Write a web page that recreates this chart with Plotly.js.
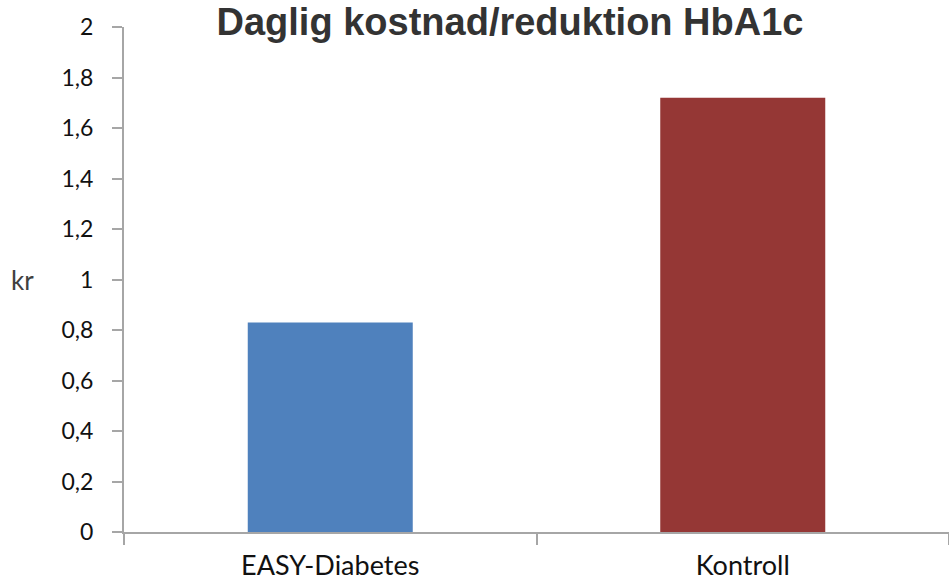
<!DOCTYPE html>
<html>
<head>
<meta charset="utf-8">
<script src="https://cdn.plot.ly/plotly-3.0.1.min.js"></script>
<style>
  html, body { margin: 0; padding: 0; background: #ffffff; }
  #chart { width: 949px; height: 582px; }
</style>
</head>
<body>
<div id="chart"></div>
<script>
const categories = ["EASY-Diabetes", "Kontroll"];
const values = [0.83, 1.72];
const barColors = ["#4F81BD", "#953735"];
const yTickVals = [0, 0.2, 0.4, 0.6, 0.8, 1, 1.2, 1.4, 1.6, 1.8, 2];
const yTickText = ["0", "0,2", "0,4", "0,6", "0,8", "1", "1,2", "1,4", "1,6", "1,8", "2"];
const titleText = "Daglig kostnad/reduktion HbA1c";
const yLabel = "kr";

const trace = {
  type: "bar",
  x: categories,
  y: values,
  marker: { color: barColors, line: { width: 0 } },
  hoverinfo: "x+y"
};

const axisColor = "#a6a6a6";

const layout = {
  width: 949,
  height: 582,
  margin: { l: 124, r: 0, t: 27, b: 50, pad: 0 },
  paper_bgcolor: "#ffffff",
  plot_bgcolor: "#ffffff",
  separators: ", ",
  showlegend: false,
  bargap: 0.6,
  title: {
    text: "<b>" + titleText + "</b>",
    font: { family: "Liberation Sans, Arial, sans-serif", size: 38, color: "#333333" },
    x: 510 / 949,
    xanchor: "center",
    xref: "container",
    yref: "container",
    y: 1 - 22 / 582,
    yanchor: "middle"
  },
  xaxis: {
    type: "category",
    showline: true,
    linecolor: axisColor,
    linewidth: 2,
    ticks: "outside",
    tickson: "boundaries",
    ticklen: 11,
    tickwidth: 2,
    tickcolor: axisColor,
    showgrid: false,
    zeroline: false,
    ticklabelstandoff: 9,
    tickfont: { family: "Lato, Open Sans, sans-serif", size: 27, color: "#111111" }
  },
  yaxis: {
    range: [0, 2],
    tickvals: yTickVals,
    ticktext: yTickText,
    showline: true,
    linecolor: axisColor,
    linewidth: 2,
    ticks: "outside",
    ticklen: 10,
    tickwidth: 2,
    tickcolor: axisColor,
    showgrid: false,
    zeroline: false,
    ticklabelstandoff: 14,
    tickfont: { family: "Lato, Open Sans, sans-serif", size: 23, color: "#111111" },
    fixedrange: true
  },
  annotations: [{
    text: yLabel,
    xref: "paper",
    yref: "paper",
    x: 0,
    xshift: -124 + 9,
    xanchor: "left",
    y: 1 / 2,
    yanchor: "middle",
    showarrow: false,
    font: { family: "Lato, Open Sans, sans-serif", size: 26, color: "#404040" }
  }]
};

Plotly.newPlot("chart", [trace], layout, { displayModeBar: false, staticPlot: true });
</script>
</body>
</html>
